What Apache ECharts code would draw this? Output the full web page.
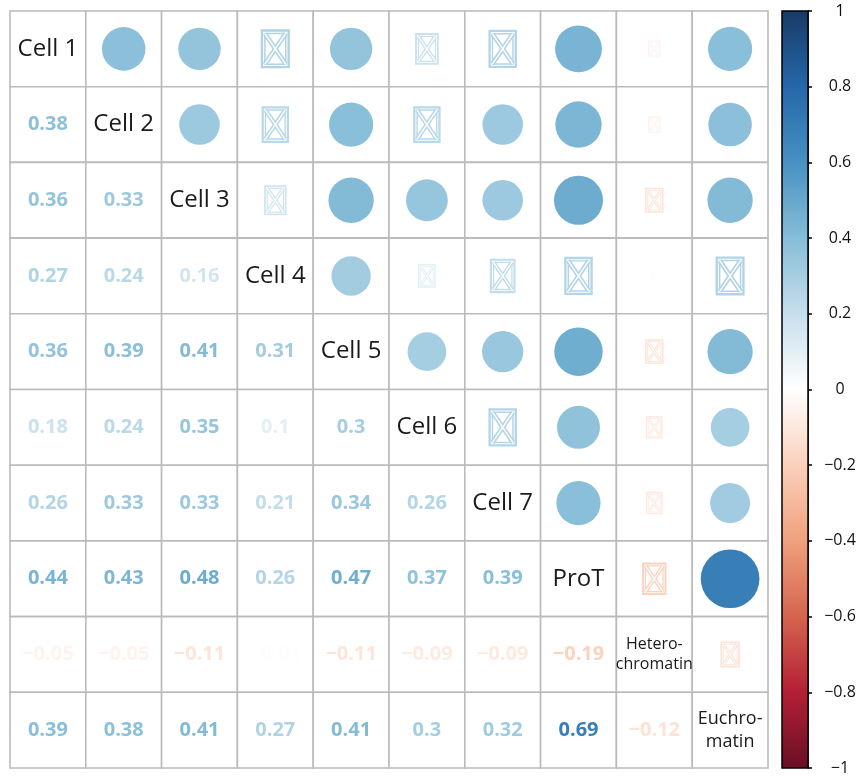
<!DOCTYPE html>
<html>
<head>
<meta charset="utf-8">
<script src="https://cdn.jsdelivr.net/npm/echarts@6/dist/echarts.min.js"></script>
<style>
  html, body { margin: 0; padding: 0; background: #ffffff; }
  #chart { width: 862px; height: 778px; }
</style>
</head>
<body>
<div id="chart"></div>
<script>
// Variables shown on the diagonal
const variables = ['Cell 1', 'Cell 2', 'Cell 3', 'Cell 4', 'Cell 5', 'Cell 6', 'Cell 7', 'ProT', 'Hetero-\nchromatin', 'Euchro-\nmatin'];

// Lower-triangle correlation coefficients, row by row
const corrRow1 = [];
const corrRow2 = [0.38];
const corrRow3 = [0.36, 0.33];
const corrRow4 = [0.27, 0.24, 0.16];
const corrRow5 = [0.36, 0.39, 0.41, 0.31];
const corrRow6 = [0.18, 0.24, 0.35, 0.10, 0.30];
const corrRow7 = [0.26, 0.33, 0.33, 0.21, 0.34, 0.26];
const corrRow8 = [0.44, 0.43, 0.48, 0.26, 0.47, 0.37, 0.39];
const corrRow9 = [-0.05, -0.05, -0.11, -0.01, -0.11, -0.09, -0.09, -0.19];
const corrRow10 = [0.39, 0.38, 0.41, 0.27, 0.41, 0.30, 0.32, 0.69, -0.12];
const corrRows = [corrRow1, corrRow2, corrRow3, corrRow4, corrRow5, corrRow6, corrRow7, corrRow8, corrRow9, corrRow10];

// Upper-triangle cells [row, col] whose correlation is not significant
const insignificant = [
  [0, 3], [0, 5], [0, 6], [0, 8],
  [1, 3], [1, 5], [1, 8],
  [2, 3], [2, 8],
  [3, 5], [3, 6], [3, 7], [3, 8], [3, 9],
  [4, 8],
  [5, 6], [5, 8],
  [6, 8],
  [7, 8],
  [8, 9]
];

// Diverging red-blue palette, one colour per step of 0.2 from -1 to 1
const paletteValues = [-1, -0.8, -0.6, -0.4, -0.2, 0, 0.2, 0.4, 0.6, 0.8, 1];
const paletteColors = ['#680F25', '#B31F35', '#D4644F', '#F0A07E', '#FBD0BB', '#FFFFFF', '#C6DFEC', '#86BDD8', '#4791C2', '#2567AA', '#183A66'];

function hexToRgb(h) {
  return [parseInt(h.slice(1, 3), 16), parseInt(h.slice(3, 5), 16), parseInt(h.slice(5, 7), 16)];
}
function colorFor(v) {
  const x = Math.max(-1, Math.min(1, v));
  let k = 0;
  while (k < paletteValues.length - 2 && x > paletteValues[k + 1]) k++;
  const t = (x - paletteValues[k]) / (paletteValues[k + 1] - paletteValues[k]);
  const a = hexToRgb(paletteColors[k]), b = hexToRgb(paletteColors[k + 1]);
  const c = a.map((ai, n) => Math.round(ai + (b[n] - ai) * t));
  return 'rgb(' + c.join(',') + ')';
}

// Build one record per matrix cell: [col, row, r, kind]
// kind: 0 = diagonal label, 1 = number, 2 = circle, 3 = crossed box
const isInsig = {};
insignificant.forEach(p => { isInsig[p[0] + '_' + p[1]] = true; });
const cells = [];
for (let i = 0; i < variables.length; i++) {
  for (let j = 0; j < variables.length; j++) {
    let r, kind;
    if (i === j) { r = 1; kind = 0; }
    else if (i > j) { r = corrRows[i][j]; kind = 1; }
    else { r = corrRows[j][i]; kind = isInsig[i + '_' + j] ? 3 : 2; }
    cells.push([j, i, r, kind]);
  }
}

function fmtNum(v) {
  const s = Math.abs(v).toFixed(2).replace(/0$/, '');
  return (v < 0 ? '\u2212' : '') + s;
}

function renderCell(params, api) {
  const j = api.value(0), i = api.value(1), r = api.value(2), kind = api.value(3);
  const c = api.coord([j, i]);
  const sz = api.size([1, 1]);
  const w = sz[0], h = sz[1], cell = Math.min(w, h);
  const children = [{
    type: 'rect',
    shape: { x: c[0] - w / 2, y: c[1] - h / 2, width: w, height: h },
    style: { fill: '#ffffff', stroke: '#BBBBBB', lineWidth: 1.6 }
  }];
  const col = colorFor(r);
  if (kind === 0) {
    const label = variables[i];
    const multi = label.indexOf('\n') >= 0;
    const fs = i === 8 ? 16 : (i === 9 ? 18 : 24);
    children.push({
      type: 'text',
      z2: 10,
      style: {
        text: label, x: c[0], y: c[1], align: 'center', verticalAlign: 'middle',
        font: fs + 'px "Open Sans", sans-serif', lineHeight: multi ? (i === 8 ? 20 : 23) : fs,
        fill: '#1a1a1a'
      }
    });
  } else if (kind === 1) {
    children.push({
      type: 'text',
      style: {
        text: fmtNum(r), x: c[0], y: c[1], align: 'center', verticalAlign: 'middle',
        font: 'bold 20px "Open Sans", sans-serif', fill: col
      }
    });
  } else if (kind === 2) {
    const rad = 0.467 * Math.sqrt(Math.abs(r)) * cell;
    children.push({
      type: 'circle',
      shape: { cx: c[0], cy: c[1], r: rad },
      style: { fill: col }
    });
  } else {
    const H = 0.93 * Math.sqrt(Math.abs(r)) * cell;
    const W = 0.73 * H;
    const x0 = c[0] - W / 2, y0 = c[1] - H / 2;
    const d = H * 0.08;
    const xi0 = x0 + d, yi0 = y0 + d, xi1 = x0 + W - d, yi1 = y0 + H - d;
    children.push({
      type: 'rect', shape: { x: x0, y: y0, width: W, height: H },
      style: { fill: 'none', stroke: col, lineWidth: Math.max(0.8, H * 0.065) }
    });
    children.push({
      type: 'rect', shape: { x: xi0, y: yi0, width: xi1 - xi0, height: yi1 - yi0 },
      style: { fill: 'none', stroke: col, lineWidth: Math.max(0.6, H * 0.04) }
    });
    [[xi0, yi0, xi1, yi1], [xi1, yi0, xi0, yi1]].forEach(s => {
      children.push({
        type: 'line', shape: { x1: s[0], y1: s[1], x2: s[2], y2: s[3] },
        style: { stroke: col, lineWidth: Math.max(1, H * 0.13) }
      });
    });
    [[xi0, yi0, xi1, yi1], [xi1, yi0, xi0, yi1]].forEach(s => {
      children.push({
        type: 'line', shape: { x1: s[0], y1: s[1], x2: s[2], y2: s[3] },
        style: { stroke: '#ffffff', lineWidth: Math.max(0.3, H * 0.04) }
      });
    });
  }
  return { type: 'group', children: children };
}

function renderColorBar(params, api) {
  const top = api.coord([0, 1]);
  const bottom = api.coord([0, -1]);
  const bw = api.size([1, 0])[0];
  const stops = paletteValues.map((v, k) => ({ offset: (1 - v) / 2, color: paletteColors[k] })).reverse();
  return {
    type: 'rect',
    shape: { x: top[0] - bw / 2, y: top[1], width: bw, height: bottom[1] - top[1] },
    style: {
      fill: new echarts.graphic.LinearGradient(0, 0, 0, 1, stops),
      stroke: '#000000', lineWidth: 1.5
    }
  };
}

const chart = echarts.init(document.getElementById('chart'), null, { renderer: 'canvas' });
chart.setOption({
  backgroundColor: '#ffffff',
  animation: false,
  grid: [
    { left: 10, top: 11, width: 758, height: 757 },
    { left: 782, top: 11, width: 26, height: 757 }
  ],
  xAxis: [
    { gridIndex: 0, type: 'category', data: variables, show: false },
    { gridIndex: 1, type: 'category', data: [''], show: false }
  ],
  yAxis: [
    { gridIndex: 0, type: 'category', data: variables, inverse: true, show: false },
    {
      gridIndex: 1, type: 'value', min: -1, max: 1, interval: 0.2, position: 'right',
      axisLine: { show: true, lineStyle: { color: '#000000', width: 1.5 } },
      axisTick: { show: true, inside: false, length: 4, lineStyle: { color: '#000000', width: 1.5 } },
      splitLine: { show: false },
      axisLabel: {
        show: true, margin: 32, align: 'center', color: '#111111', fontSize: 16,
        fontFamily: '"Open Sans", sans-serif',
        formatter: v => {
          const r = Math.round(v * 10) / 10;
          return (r < 0 ? '\u2212' : '') + String(Math.abs(r));
        }
      }
    }
  ],
  series: [
    {
      type: 'custom', xAxisIndex: 0, yAxisIndex: 0,
      renderItem: renderCell, data: cells, encode: { x: 0, y: 1 }, silent: true
    },
    {
      type: 'custom', xAxisIndex: 1, yAxisIndex: 1,
      renderItem: renderColorBar, data: [[0, 0]], encode: { x: 0, y: 1 }, silent: true
    }
  ]
});
</script>
</body>
</html>
